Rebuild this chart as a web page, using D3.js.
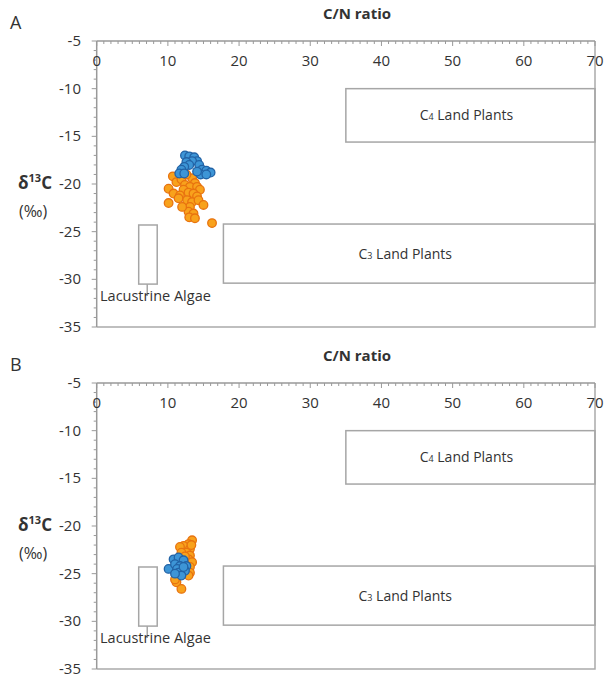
<!DOCTYPE html>
<html>
<head>
<meta charset="utf-8">
<script src="https://cdn.jsdelivr.net/npm/d3@7"></script>
<style>
  body { margin: 0; background: #fff; }
  svg text { font-family: "Open Sans", "Noto Sans", sans-serif; fill: #333; }
</style>
</head>
<body>
<div id="chart"></div>
<script>
// C/N ratio vs d13C, two panels

const xTicks = [0, 10, 20, 30, 40, 50, 60, 70];
const yTicks = [-5, -10, -15, -20, -25, -30, -35];

// [C/N, d13C]
const aOrange = [[10.7,-19.2],[11.2,-19.8],[10.1,-20.5],[10.8,-21.0],[11.9,-19.5],[12.4,-20.1],[13.4,-19.4],
  [13.8,-19.9],[13.1,-20.3],[14.1,-20.3],[14.5,-20.6],[12.2,-20.6],[11.7,-21.2],[12.9,-20.9],[13.6,-21.0],
  [14.1,-21.3],[10.1,-22.0],[11.5,-21.5],[12.7,-21.7],[13.4,-21.9],[14.3,-21.7],[15.0,-22.2],[13.1,-22.4],
  [12.9,-22.9],[13.6,-23.1],[13.0,-23.5],[13.8,-23.6],[16.2,-24.1],[12.6,-19.0],[12.0,-22.4]];
const aBlue = [[12.4,-17.0],[13.0,-17.1],[13.7,-17.2],[14.1,-17.6],[13.4,-17.6],[12.6,-17.7],[13.0,-18.0],
  [12.3,-18.2],[11.9,-18.5],[11.6,-18.9],[12.3,-18.9],[14.4,-18.0],[14.8,-18.5],[15.4,-18.6],[16.0,-18.8],
  [14.6,-19.0],[15.4,-19.0],[14.1,-18.7]];
const bOrange = [[13.4,-21.5],[12.9,-21.9],[12.2,-22.1],[11.7,-22.2],[13.1,-22.4],[12.6,-22.8],[11.9,-22.8],
  [13.1,-23.1],[12.9,-23.5],[13.4,-23.8],[13.1,-24.3],[13.1,-24.9],[11.2,-25.9],[11.9,-26.6],[12.9,-25.2],
  [11.0,-25.6],[12.4,-23.2],[13.3,-22.0]];
const bBlue = [[10.1,-24.5],[10.8,-23.5],[11.5,-23.3],[12.2,-23.6],[11.0,-24.0],[11.7,-24.2],[12.6,-24.2],
  [11.3,-24.5],[11.9,-24.9],[12.4,-24.7],[11.5,-24.9],[11.9,-25.2],[11.0,-25.0],[12.2,-24.3]];

const boxes = [
  {label: "4", x0: 35, x1: 70, y0: -10.0, y1: -15.6},
  {label: "3", x0: 17.8, x1: 70, y0: -24.2, y1: -30.4},
  {label: "", x0: 5.9, x1: 8.5, y0: -24.3, y1: -30.5}
];

const svg = d3.select("#chart").append("svg").attr("width", 605).attr("height", 675);

function panel(name, top, orange, blue) {
  const x = d3.scaleLinear().domain([0, 70]).range([96.7, 595]);
  const y = d3.scaleLinear().domain([-5, -35]).range([top, top + 286]);
  const g = svg.append("g");

  g.append("text").attr("x", 10).attr("y", top - 12).attr("font-size", 18).text(name);
  g.append("text").attr("x", 357).attr("y", top - 22).attr("text-anchor", "middle")
    .attr("font-size", 15).attr("font-weight", "bold").text("C/N ratio");

  // plot border right / bottom
  g.append("path").attr("fill", "none").attr("stroke", "#aaa").attr("stroke-width", 1.5)
    .attr("d", `M${x(70)},${y(-5)}V${y(-35)}H${x(0)}`);

  // minor ticks
  g.selectAll(".mx").data(d3.range(0, 71, 1)).enter().append("line")
    .attr("x1", d => x(d)).attr("x2", d => x(d)).attr("y1", y(-5)).attr("y2", d => y(-5) + (d % 10 ? 3 : 5))
    .attr("stroke", "#999");
  g.selectAll(".my").data(d3.range(-5, -36, -1)).enter().append("line")
    .attr("y1", d => y(d)).attr("y2", d => y(d)).attr("x1", d => x(0) - (d % 5 ? 3 : 5)).attr("x2", x(0))
    .attr("stroke", "#999");
  g.append("line").attr("x1", x(0)).attr("x2", x(70)).attr("y1", y(-5)).attr("y2", y(-5)).attr("stroke", "#999").attr("stroke-width", 1.5);
  g.append("line").attr("x1", x(0)).attr("x2", x(0)).attr("y1", y(-5)).attr("y2", y(-35)).attr("stroke", "#999").attr("stroke-width", 1.5);

  g.selectAll(".xl").data(xTicks).enter().append("text")
    .attr("x", d => x(d)).attr("y", y(-5) + 25).attr("text-anchor", "middle").attr("font-size", 15).text(d => d);
  g.selectAll(".yl").data(yTicks).enter().append("text")
    .attr("x", 81).attr("y", d => y(d) + 5).attr("text-anchor", "end").attr("font-size", 15).text(d => d);

  const yl = g.append("text").attr("x", 18).attr("y", y(-20) + 5).attr("font-size", 17).attr("font-weight", "bold");
  yl.append("tspan").text("δ");
  yl.append("tspan").attr("font-size", 11).attr("dy", -7).text("13");
  yl.append("tspan").attr("dy", 7).text("C");
  g.append("text").attr("x", 19).attr("y", y(-20) + 33).attr("font-size", 16).text("(‰)");

  boxes.forEach(b => {
    g.append("rect").attr("x", x(b.x0)).attr("y", y(b.y0))
      .attr("width", x(b.x1) - x(b.x0)).attr("height", y(b.y1) - y(b.y0))
      .attr("fill", "none").attr("stroke", "#a6a6a6").attr("stroke-width", 1.5);
    if (b.label) {
      const t = g.append("text").attr("x", (x(b.x0) + x(b.x1)) / 2 - 4).attr("y", (y(b.y0) + y(b.y1)) / 2 + 5)
        .attr("text-anchor", "middle").attr("font-size", 14);
      t.append("tspan").text("C");
      t.append("tspan").attr("font-size", 9).text(b.label);
      t.append("tspan").text(" Land Plants");
    }
  });
  const alg = boxes[2];
  g.append("line").attr("x1", x(7.1)).attr("x2", x(7.1)).attr("y1", y(alg.y1)).attr("y2", y(alg.y1) + 12)
    .attr("stroke", "#a6a6a6").attr("stroke-width", 1.5);
  g.append("text").attr("x", 100).attr("y", y(-32.3)).attr("font-size", 14.5).text("Lacustrine Algae");

  g.selectAll(".po").data(orange).enter().append("circle")
    .attr("cx", d => x(d[0])).attr("cy", d => y(d[1])).attr("r", 4.3)
    .attr("fill", "#f8a21c").attr("stroke", "#e8730f").attr("stroke-width", 1.3);
  g.selectAll(".pb").data(blue).enter().append("circle")
    .attr("cx", d => x(d[0])).attr("cy", d => y(d[1])).attr("r", 4.3)
    .attr("fill", "#3d95d6").attr("stroke", "#2263a6").attr("stroke-width", 1.3);
}

panel("A", 41, aOrange, aBlue);
panel("B", 383, bOrange, bBlue);
</script>
</body>
</html>
